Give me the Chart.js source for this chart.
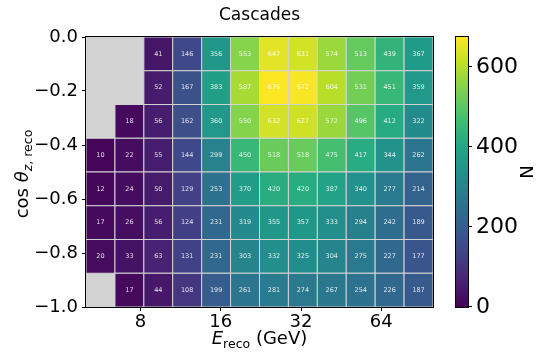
<!DOCTYPE html>
<html>
<head>
<meta charset="utf-8">
<script src="https://cdn.jsdelivr.net/npm/chart.js@4.4.0/dist/chart.umd.min.js"></script>
<style>
  html, body { margin: 0; padding: 0; background: #fff; }
</style>
</head>
<body>
<canvas id="heat" width="537" height="355"></canvas>
<script>
// histogram bin edges
const E_EDGES = [5, 6.42, 8.24, 10.57, 13.57, 17.42, 22.36, 28.70, 36.84, 47.29, 60.70, 77.91, 100];
const COS_EDGES = [-1, -0.875, -0.75, -0.625, -0.5, -0.375, -0.25, -0.125, 0];
const E_TICKS = [8, 16, 32, 64];
const CB_TICKS = [0, 200, 400, 600];

// counts per bin, top row (cos close to 0) first, null = empty bin
const COUNTS = [
  [null, null, 41, 146, 356, 553, 647, 631, 574, 513, 439, 367],
  [null, null, 52, 167, 383, 587, 676, 672, 604, 531, 451, 359],
  [null, 18, 56, 162, 360, 550, 632, 627, 572, 496, 412, 322],
  [10, 22, 55, 144, 299, 450, 518, 518, 475, 417, 344, 262],
  [12, 24, 50, 129, 253, 370, 420, 420, 387, 340, 277, 214],
  [17, 26, 56, 124, 231, 319, 355, 357, 333, 294, 242, 189],
  [20, 33, 63, 131, 231, 303, 332, 325, 304, 275, 227, 177],
  [null, 17, 44, 108, 199, 261, 281, 274, 267, 254, 226, 187]
];

const N_MAX = Math.max(...COUNTS.flat().filter(v => v !== null));

const VIRIDIS = ['#440154', '#482475', '#414487', '#355f8d', '#2a788e', '#21918c',
                 '#22a884', '#44bf70', '#7ad151', '#bddf26', '#fde725'];

function hexRgb(h) {
  return [parseInt(h.slice(1, 3), 16), parseInt(h.slice(3, 5), 16), parseInt(h.slice(5, 7), 16)];
}
function viridis(t) {
  t = Math.min(1, Math.max(0, t));
  const s = t * (VIRIDIS.length - 1);
  const i = Math.min(Math.floor(s), VIRIDIS.length - 2);
  const f = s - i;
  const a = hexRgb(VIRIDIS[i]), b = hexRgb(VIRIDIS[i + 1]);
  const c = a.map((v, k) => Math.round(v + (b[k] - v) * f));
  return `rgb(${c[0]},${c[1]},${c[2]})`;
}

// one point per filled bin
const cells = [];
COUNTS.forEach((row, r) => {
  const y0 = COS_EDGES[COS_EDGES.length - 2 - r];
  const y1 = COS_EDGES[COS_EDGES.length - 1 - r];
  row.forEach((n, c) => {
    if (n === null) return;
    cells.push({
      x: Math.sqrt(E_EDGES[c] * E_EDGES[c + 1]), y: (y0 + y1) / 2,
      x0: E_EDGES[c], x1: E_EDGES[c + 1], y0, y1, n
    });
  });
});

const FONT = '"DejaVu Sans", sans-serif';

const heatmap = {
  id: 'heatmap',
  beforeDatasetsDraw(chart) {
    const { ctx, chartArea: a, scales: { x, y } } = chart;
    ctx.save();
    ctx.fillStyle = '#d3d3d3';
    ctx.fillRect(a.left, a.top, a.right - a.left, a.bottom - a.top);
    ctx.lineWidth = 1;
    ctx.strokeStyle = '#d3d3d3';
    cells.forEach(c => {
      const px0 = x.getPixelForValue(c.x0), px1 = x.getPixelForValue(c.x1);
      const py0 = y.getPixelForValue(c.y1), py1 = y.getPixelForValue(c.y0);
      ctx.fillStyle = viridis(c.n / N_MAX);
      ctx.fillRect(px0, py0, px1 - px0, py1 - py0);
      ctx.strokeRect(px0, py0, px1 - px0, py1 - py0);
    });
    ctx.font = '6.5px ' + FONT;
    ctx.fillStyle = 'rgba(255,255,255,0.85)';
    ctx.textAlign = 'center';
    ctx.textBaseline = 'middle';
    cells.forEach(c => {
      ctx.fillText(String(c.n), x.getPixelForValue(c.x), y.getPixelForValue(c.y));
    });
    ctx.restore();
  },
  afterDatasetsDraw(chart) {
    const { ctx, chartArea: a, scales: { cb } } = chart;
    ctx.save();
    // axes frame
    ctx.strokeStyle = '#000';
    ctx.lineWidth = 1;
    ctx.strokeRect(a.left - 0.5, a.top - 0.5, a.right - a.left + 1, a.bottom - a.top + 1);

    // colorbar
    const bx0 = a.right + 22, bx1 = a.right + 35;
    const yTop = cb.getPixelForValue(N_MAX), yBot = cb.getPixelForValue(0);
    const g = ctx.createLinearGradient(0, yBot, 0, yTop);
    VIRIDIS.forEach((col, i) => g.addColorStop(i / (VIRIDIS.length - 1), col));
    ctx.fillStyle = g;
    ctx.fillRect(bx0, yTop, bx1 - bx0, yBot - yTop);
    ctx.strokeRect(bx0 + 0.5, yTop - 0.5, bx1 - bx0, yBot - yTop + 1);
    CB_TICKS.forEach(v => {
      const py = Math.round(cb.getPixelForValue(v)) - 0.5;
      ctx.beginPath();
      ctx.moveTo(bx1 + 0.5, py);
      ctx.lineTo(bx1 + 4, py);
      ctx.stroke();
    });

    // titles
    ctx.fillStyle = '#000';
    const cx = (a.left + a.right) / 2;
    ctx.font = '17px ' + FONT;
    ctx.textAlign = 'center';
    ctx.textBaseline = 'alphabetic';
    ctx.fillText('Cascades', cx, 20);

    // x label: E_reco (GeV)
    drawParts(ctx, [
      { t: 'E', f: 'italic 18px ' + FONT, dy: 0 },
      { t: 'reco', f: '12.5px ' + FONT, dy: 4 },
      { t: ' (GeV)', f: '18px ' + FONT, dy: 0 }
    ], cx, 344);

    // y label: cos θ_z,reco
    ctx.save();
    ctx.translate(28, (a.top + a.bottom) / 2 + 2);
    ctx.rotate(-Math.PI / 2);
    drawParts(ctx, [
      { t: 'cos ', f: '18px ' + FONT, dy: 0 },
      { t: 'θ', f: 'italic 18px ' + FONT, dy: 0 },
      { t: 'z', f: 'italic 12.5px ' + FONT, dy: 4 },
      { t: ', reco', f: '12.5px ' + FONT, dy: 4 }
    ], 0, 0);
    ctx.restore();

    // colorbar label
    ctx.save();
    ctx.translate(533, (a.top + a.bottom) / 2);
    ctx.rotate(-Math.PI / 2);
    ctx.font = '18px ' + FONT;
    ctx.textAlign = 'center';
    ctx.fillText('N', 0, 0);
    ctx.restore();
    ctx.restore();
  }
};

function drawParts(ctx, parts, cx, baseY) {
  let w = 0;
  parts.forEach(p => { ctx.font = p.f; p.w = ctx.measureText(p.t).width; w += p.w; });
  let px = cx - w / 2;
  ctx.textAlign = 'left';
  ctx.textBaseline = 'alphabetic';
  parts.forEach(p => {
    ctx.font = p.f;
    ctx.fillText(p.t, px, baseY + p.dy);
    px += p.w;
  });
}

const fmtCos = v => (v < -1e-9 ? '\u2212' : '') + Math.abs(v).toFixed(1);

// fixed axis sizes, no extra label overflow padding
const fixSize = (w, h) => s => {
  if (w !== null) s.width = w;
  if (h !== null) s.height = h;
  s.paddingTop = 0; s.paddingBottom = 0; s.paddingLeft = 0; s.paddingRight = 0;
};

new Chart(document.getElementById('heat'), {
  type: 'scatter',
  data: {
    datasets: [{ data: cells, pointRadius: 0, pointHoverRadius: 0 }]
  },
  options: {
    responsive: false,
    animation: false,
    layout: { padding: { top: 37, left: 0, right: 0, bottom: 0 } },
    plugins: { legend: { display: false }, tooltip: { enabled: false }, title: { display: false } },
    scales: {
      x: {
        type: 'logarithmic',
        min: 5, max: 100,
        afterBuildTicks: s => { s.ticks = E_TICKS.map(v => ({ value: v })); },
        afterFit: fixSize(null, 48),
        grid: { drawOnChartArea: false, tickLength: 4, color: '#000' },
        border: { display: true, color: '#000' },
        ticks: {
          callback: v => String(v), maxRotation: 0, autoSkip: false,
          color: '#000', padding: 1, font: { family: 'DejaVu Sans', size: 18 }
        }
      },
      y: {
        type: 'linear',
        min: -1, max: 0,
        afterFit: fixSize(86, null),
        grid: { drawOnChartArea: false, tickLength: 4, color: '#000' },
        border: { display: true, color: '#000' },
        ticks: {
          stepSize: 0.2, callback: fmtCos,
          color: '#000', padding: 4, font: { family: 'DejaVu Sans', size: 18 }
        }
      },
      cb: {
        type: 'linear',
        position: 'right',
        min: 0, max: N_MAX,
        afterBuildTicks: s => { s.ticks = CB_TICKS.map(v => ({ value: v })); },
        afterFit: fixSize(104, null),
        grid: { display: false, drawTicks: false },
        border: { display: false },
        ticks: {
          callback: v => String(v),
          color: '#000', padding: 43, font: { family: 'DejaVu Sans', size: 22 }
        }
      }
    }
  },
  plugins: [heatmap]
});
</script>
</body>
</html>
